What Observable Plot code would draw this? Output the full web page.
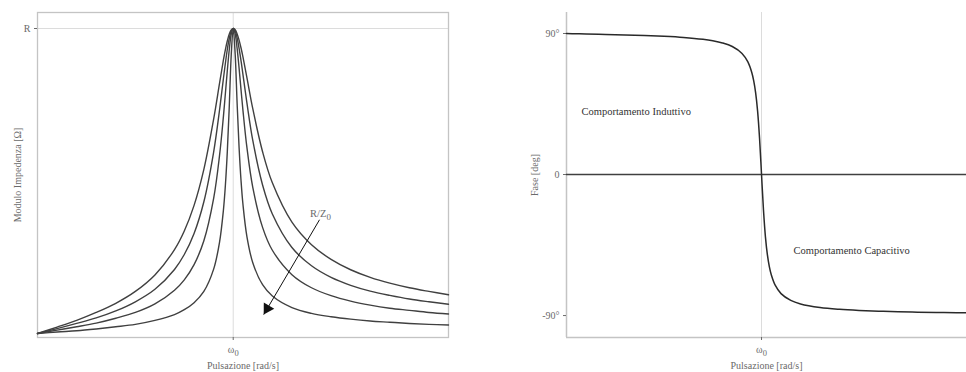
<!DOCTYPE html>
<html>
<head>
<meta charset="utf-8">
<script src="https://cdn.jsdelivr.net/npm/d3@7"></script>
<script src="https://cdn.jsdelivr.net/npm/@observablehq/plot@0.6"></script>
<style>
  html, body { margin: 0; padding: 0; background: #fff; }
  #wrap { display: flex; width: 966px; height: 372px; overflow: hidden; }
</style>
</head>
<body>
<div id="wrap"></div>
<script>
// ---- Data ----
// Left panel: |Z| normalised to R, four values of R/Z0 (widest to narrowest)
const omega = [0, 0.1, 0.2, 0.3, 0.4, 0.5, 0.6, 0.7, 0.75, 0.8, 0.85, 0.9, 0.93, 0.95, 0.96, 0.97, 0.98, 0.99, 1.0, 1.01, 1.02, 1.03, 1.04, 1.05, 1.07, 1.1, 1.15, 1.2, 1.3, 1.4, 1.5, 1.6, 1.7, 1.8, 1.9, 2.0, 2.1];
const curve1 = [0, 0.021, 0.043, 0.069, 0.099, 0.138, 0.192, 0.275, 0.336, 0.420, 0.538, 0.703, 0.820, 0.897, 0.931, 0.960, 0.982, 0.995, 1.0, 0.996, 0.982, 0.962, 0.936, 0.906, 0.839, 0.737, 0.596, 0.494, 0.365, 0.291, 0.243, 0.209, 0.184, 0.165, 0.150, 0.138, 0.127];
const curve2 = [0, 0.016, 0.033, 0.051, 0.074, 0.104, 0.145, 0.210, 0.259, 0.328, 0.432, 0.595, 0.732, 0.836, 0.886, 0.932, 0.968, 0.992, 1.0, 0.992, 0.969, 0.935, 0.894, 0.848, 0.756, 0.633, 0.487, 0.392, 0.282, 0.222, 0.184, 0.158, 0.139, 0.125, 0.113, 0.104, 0.096];
const curve3 = [0, 0.011, 0.022, 0.034, 0.050, 0.069, 0.097, 0.142, 0.176, 0.226, 0.304, 0.443, 0.583, 0.712, 0.787, 0.863, 0.932, 0.982, 1.0, 0.982, 0.935, 0.870, 0.799, 0.730, 0.610, 0.479, 0.348, 0.273, 0.193, 0.150, 0.124, 0.106, 0.093, 0.083, 0.076, 0.069, 0.064];
const curve4 = [0, 0.005, 0.009, 0.015, 0.022, 0.030, 0.043, 0.062, 0.078, 0.101, 0.138, 0.211, 0.299, 0.405, 0.486, 0.598, 0.747, 0.915, 1.0, 0.916, 0.754, 0.610, 0.501, 0.422, 0.318, 0.232, 0.160, 0.123, 0.085, 0.066, 0.055, 0.047, 0.041, 0.037, 0.033, 0.030, 0.028];
const magnitudeSeries = [curve1, curve2, curve3, curve4];

// Right panel: phase in degrees
const phaseOmega = [0, 0.05, 0.1, 0.2, 0.3, 0.4, 0.5, 0.6, 0.7, 0.75, 0.8, 0.85, 0.9, 0.93, 0.95, 0.96, 0.97, 0.98, 0.99, 1.0, 1.01, 1.02, 1.03, 1.04, 1.05, 1.07, 1.1, 1.15, 1.2, 1.3, 1.4, 1.5, 1.6, 1.7, 1.8, 1.9, 2.0, 2.05];
const phaseDeg = [90, 89.86, 89.72, 89.43, 89.10, 88.70, 88.18, 87.44, 86.26, 85.33, 83.96, 81.70, 77.29, 71.85, 65.11, 59.75, 51.98, 40.31, 22.88, 0, -22.68, -39.75, -51.14, -58.75, -63.99, -70.62, -75.99, -80.36, -82.60, -84.87, -86.03, -86.73, -87.20, -87.55, -87.81, -88.01, -88.18, -88.25];

// Tick labels
const magTicks = [1];
const magTickLabels = ["R"];
const omegaTicks = [1];
const omegaTickLabels = ["ω₀"];
const phaseTicks = [90, 0, -90];
const phaseTickLabels = ["90°", "0", "-90°"];

// Annotations
const arrowLabel = "R/Z₀";
const arrowLabelPos = [1.446, 0.393];
const arrowFrom = [1.441, 0.373];
const arrowTo = [1.156, 0.062];
const phaseNotes = ["Comportamento Induttivo", "Comportamento Capacitivo"];
const phaseNoteOmega = [0.077, 1.164];
const phaseNoteDeg = [40.4, -48.5];

// Scales
const magXDomain = [0, 2.1];
const magYDomain = [-0.0131, 1.0525];
const phaseXDomain = [0, 2.051];
const phaseYDomain = [-104, 103.4];

const FONT = "'Liberation Serif', 'DejaVu Serif', serif";
const LABEL = "#6a6a6a";
const INK = "#404040";

// ---- Left plot ----
const magRows = magnitudeSeries.flatMap((vals, s) => vals.map((v, i) => ({omega: omega[i], value: v, series: s})));

const left = Plot.plot({
  width: 483, height: 372,
  marginLeft: 37, marginRight: 35, marginTop: 12, marginBottom: 35,
  x: {domain: magXDomain},
  y: {domain: magYDomain},
  style: {fontFamily: FONT, fontSize: "10px", color: LABEL, background: "#fff"},
  marks: [
    Plot.ruleX(omegaTicks, {stroke: "#dcdcdc", strokeWidth: 1}),
    Plot.ruleY(magTicks, {stroke: "#dcdcdc", strokeWidth: 1}),
    Plot.frame({stroke: "#c4c4c4", strokeWidth: 1.3}),
    Plot.axisY({ticks: magTicks, tickFormat: (d, i) => magTickLabels[i], tickSize: 3, tickPadding: 4,
      label: "Modulo Impedenza [Ω]", labelAnchor: "center", labelOffset: 24, labelArrow: "none"}),
    Plot.axisX({ticks: omegaTicks, tickFormat: (d, i) => omegaTickLabels[i], tickSize: 3, tickPadding: 5,
      label: "Pulsazione [rad/s]", labelAnchor: "center", labelOffset: 31, labelArrow: "none"}),
    Plot.line(magRows, {x: "omega", y: "value", z: "series", stroke: INK, strokeWidth: 1.4, curve: "catmull-rom"}),
    Plot.link([0], {x1: () => arrowFrom[0], y1: () => arrowFrom[1], x2: () => arrowTo[0], y2: () => arrowTo[1], stroke: "#111", strokeWidth: 1}),
    Plot.dot([0], {x: () => arrowTo[0], y: () => arrowTo[1], symbol: "triangle", r: 4.5, rotate: 210.5, fill: "#111", stroke: "none", dx: 3.5, dy: -6}),
    Plot.text([arrowLabel], {x: () => arrowLabelPos[0], y: () => arrowLabelPos[1], text: d => d, fill: LABEL, fontSize: 10.5, textAnchor: "middle"})
  ]
});

// ---- Right plot ----
const phaseRows = phaseOmega.map((w, i) => ({omega: w, deg: phaseDeg[i]}));
const noteRows = phaseNotes.map((t, i) => ({text: t, omega: phaseNoteOmega[i], deg: phaseNoteDeg[i]}));

const right = Plot.plot({
  width: 483, height: 372,
  marginLeft: 83, marginRight: 0, marginTop: 12, marginBottom: 35,
  x: {domain: phaseXDomain},
  y: {domain: phaseYDomain},
  style: {fontFamily: FONT, fontSize: "10px", color: LABEL, background: "#fff"},
  marks: [
    Plot.ruleX(omegaTicks, {stroke: "#dcdcdc", strokeWidth: 1}),
    Plot.ruleX([phaseXDomain[0]], {stroke: "#c4c4c4", strokeWidth: 1.5}),
    Plot.ruleY([phaseYDomain[0]], {stroke: "#c4c4c4", strokeWidth: 1.5}),
    Plot.axisY({ticks: phaseTicks, tickFormat: (d, i) => phaseTickLabels[i], tickSize: 3, tickPadding: 4,
      label: "Fase [deg]", labelAnchor: "center", labelOffset: 36, labelArrow: "none"}),
    Plot.axisX({ticks: omegaTicks, tickFormat: (d, i) => omegaTickLabels[i], tickSize: 3, tickPadding: 5,
      label: "Pulsazione [rad/s]", labelAnchor: "center", labelOffset: 31, labelArrow: "none"}),
    Plot.ruleY([0], {stroke: INK, strokeWidth: 1.5}),
    Plot.line(phaseRows, {x: "omega", y: "deg", stroke: "#2a2a2a", strokeWidth: 1.5, curve: "catmull-rom"}),
    Plot.text(noteRows, {x: "omega", y: "deg", text: "text", textAnchor: "start", fill: "#333", fontSize: 10.5})
  ]
});

// Render the "₀" subscripts as real lowered subscripts
function subscriptify(svg) {
  d3.select(svg).selectAll("text").each(function () {
    const t = d3.select(this);
    if (!this.childElementCount && this.textContent.includes("₀")) {
      const [base] = this.textContent.split("₀");
      t.text(base);
      t.append("tspan").attr("dy", "0.35em").attr("font-size", "0.85em").text("0");
    }
  });
}
subscriptify(left);
subscriptify(right);

const wrap = document.getElementById("wrap");
wrap.append(left, right);
</script>
</body>
</html>
